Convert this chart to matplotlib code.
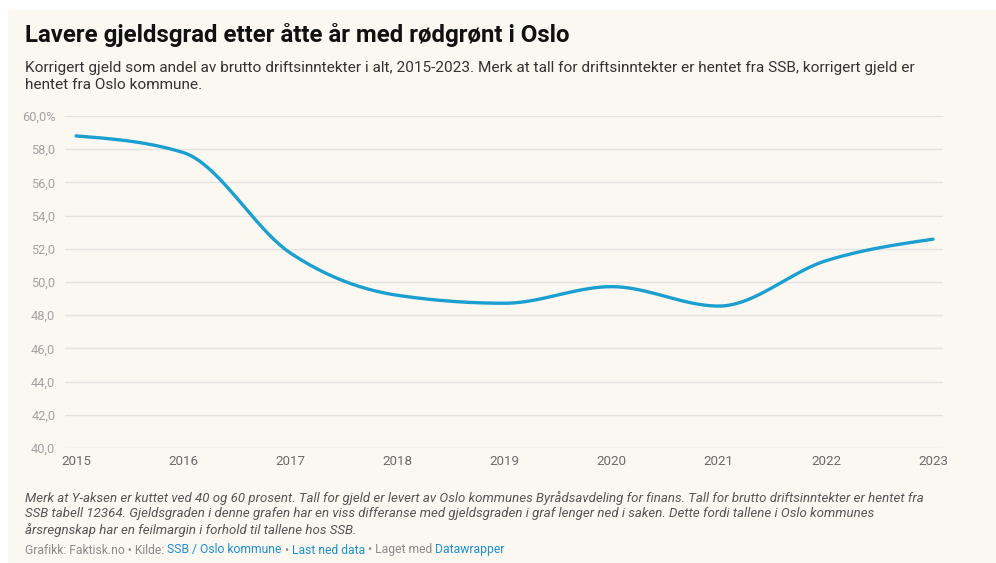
import numpy as np
import matplotlib
matplotlib.use("Agg")
import matplotlib.pyplot as plt
from matplotlib.patches import Rectangle

# data
years = [2015, 2016, 2017, 2018, 2019, 2020, 2021, 2022, 2023]
gjeldsgrad = [58.8, 57.8, 51.75, 49.2, 48.72, 49.72, 48.55, 51.28, 52.58]
y_ticks = [40, 42, 44, 46, 48, 50, 52, 54, 56, 58, 60]
y_tick_labels = ["40,0", "42,0", "44,0", "46,0", "48,0", "50,0",
                 "52,0", "54,0", "56,0", "58,0", "60,0%"]

TITLE = "Lavere gjeldsgrad etter åtte år med rødgrønt i Oslo"
SUBTITLE = ("Korrigert gjeld som andel av brutto driftsinntekter i alt, 2015-2023. "
            "Merk at tall for driftsinntekter er hentet fra SSB, korrigert gjeld er\n"
            "hentet fra Oslo kommune.")
NOTE = ("Merk at Y-aksen er kuttet ved 40 og 60 prosent. Tall for gjeld er levert av Oslo "
        "kommunes Byrådsavdeling for finans. Tall for brutto driftsinntekter er hentet fra\n"
        "SSB tabell 12364. Gjeldsgraden i denne grafen har en viss differanse med "
        "gjeldsgraden i graf lenger ned i saken. Dette fordi tallene i Oslo kommunes\n"
        "årsregnskap har en feilmargin i forhold til tallene hos SSB.")
CREDIT = [("Grafikk: Faktisk.no • Kilde: ", "#8a8a8a"),
          ("SSB / Oslo kommune", "#1d8fd0"),
          (" • ", "#8a8a8a"),
          ("Last ned data", "#1d8fd0"),
          (" • Laget med ", "#8a8a8a"),
          ("Datawrapper", "#1d8fd0")]

BG = "#fbf8f2"
LINE = "#1a9fd0"

plt.rcParams["font.family"] = ["Roboto", "DejaVu Sans"]

W, H = 996, 563


def monotone_x(x, y, n=40):
    """Smooth curve through the points like d3 curveMonotoneX."""
    x = np.asarray(x, float)
    y = np.asarray(y, float)
    h = np.diff(x)
    s = np.diff(y) / h
    m = np.zeros_like(y)
    for i in range(1, len(y) - 1):
        p = (s[i - 1] * h[i] + s[i] * h[i - 1]) / (h[i - 1] + h[i])
        m[i] = (np.sign(s[i - 1]) + np.sign(s[i])) * min(abs(s[i - 1]), abs(s[i]), 0.5 * abs(p))
    m[0] = (3 * s[0] - m[1]) / 2
    m[-1] = (3 * s[-1] - m[-2]) / 2
    xs, ys = [], []
    for i in range(len(h)):
        t = np.linspace(0, 1, n)
        h00 = 2 * t**3 - 3 * t**2 + 1
        h10 = t**3 - 2 * t**2 + t
        h01 = -2 * t**3 + 3 * t**2
        h11 = t**3 - t**2
        xs.append(x[i] + t * h[i])
        ys.append(h00 * y[i] + h10 * h[i] * m[i] + h01 * y[i + 1] + h11 * h[i] * m[i + 1])
    return np.concatenate(xs), np.concatenate(ys)


fig = plt.figure(figsize=(W / 100, H / 100), dpi=100)
fig.patch.set_facecolor("white")
fig.patches.append(Rectangle((8 / W, 0), 1 - 8 / W, 1 - 10 / H,
                             transform=fig.transFigure, facecolor=BG,
                             edgecolor="none", zorder=-1))

# plot area in pixels: x 65..943, y 116..448 (from top)
ax = fig.add_axes([65 / W, 1 - 448 / H, (943 - 65) / W, (448 - 116) / H])
ax.set_facecolor("none")

cx, cy = monotone_x(years, gjeldsgrad)
ax.plot(cx, cy, color=LINE, linewidth=2.4, solid_capstyle="round", zorder=3)

ax.set_xlim(2014.897, 2023.093)
ax.set_ylim(40, 60)
ax.set_yticks(y_ticks)
ax.set_yticklabels(y_tick_labels)
ax.set_xticks(years)
ax.set_xticklabels([str(v) for v in years])
for v in y_ticks:
    ax.axhline(v, color="#e4e3df", linewidth=1, zorder=1)
for side in ax.spines.values():
    side.set_visible(False)
ax.tick_params(axis="y", length=0, pad=7, labelsize=9.2, labelcolor="#a3a3a3")
ax.tick_params(axis="x", length=0, pad=5, labelsize=9.6, labelcolor="#6b6b6b")

fig.text(25 / W, 1 - 35 / H, TITLE, fontsize=17.3, fontweight="bold",
         color="#111111", va="center", ha="left")
fig.text(25 / W, 1 - 61 / H, SUBTITLE, fontsize=11.1, color="#333333",
         va="top", ha="left", linespacing=1.25)
fig.text(25 / W, 1 - 491 / H, NOTE, fontsize=9.5, style="italic", color="#555555",
         va="top", ha="left", linespacing=1.22)

renderer = fig.canvas.get_renderer()
x0 = 25 / W
for txt, col in CREDIT:
    t = fig.text(x0, 1 - 550 / H, txt, fontsize=8.7, color=col, va="center", ha="left")
    bb = t.get_window_extent(renderer=renderer)
    x0 = bb.x1 / W

fig.savefig("out.png", dpi=100, facecolor=fig.get_facecolor())
